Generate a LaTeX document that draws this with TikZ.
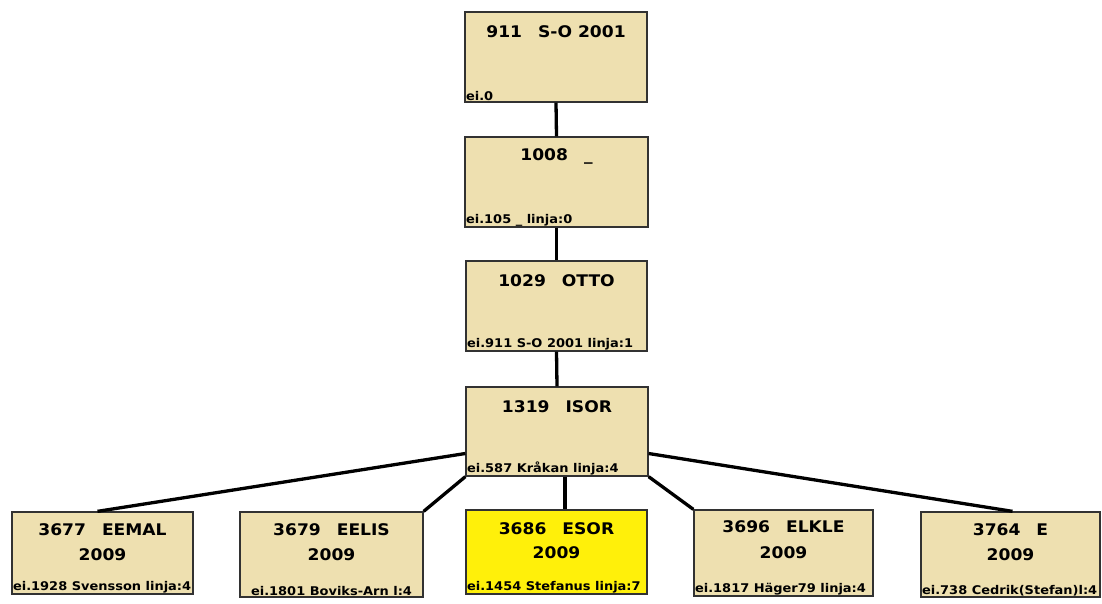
\documentclass[tikz,border=0pt]{standalone}
\usepackage{fontspec}
\setmainfont{DejaVu Sans}
\newfontfamily\titleface[FakeStretch=1.07]{DejaVu Sans}
\newfontfamily\footface[FakeStretch=1.08]{DejaVu Sans}
\definecolor{boxfill}{RGB}{238,224,176}
\definecolor{boxyellow}{RGB}{255,240,10}
\definecolor{boxline}{RGB}{50,50,50}
\begin{document}
\begin{tikzpicture}[x=1pt,y=-1pt,
  box/.style={draw=boxline,line width=1.3pt,fill=boxfill,inner sep=0pt},
  ttl/.style={font=\titleface\bfseries\fontsize{16}{18}\selectfont,inner sep=0pt,anchor=center},
  foot/.style={font=\footface\bfseries\fontsize{12}{14}\selectfont,inner sep=1.5pt,anchor=south west},
  conn/.style={line width=3.3pt,black}]
\useasboundingbox[fill=white] (0,0) rectangle (1102,603);
% boxes
\node[box,minimum width=182pt,minimum height=90pt] (b1) at (556,57) {};
\node[box,minimum width=183pt,minimum height=90pt] (b2) at (556.5,182) {};
\node[box,minimum width=181pt,minimum height=90pt] (b3) at (556.5,306) {};
\node[box,minimum width=182pt,minimum height=89pt] (b4) at (557,431.5) {};
\node[box,minimum width=181pt,minimum height=82pt] (b5) at (102.5,553) {};
\node[box,minimum width=183pt,minimum height=85pt] (b6) at (331.5,554.5) {};
\node[box,fill=boxyellow,minimum width=181pt,minimum height=84pt] (b7) at (556.5,552) {};
\node[box,minimum width=179pt,minimum height=86pt] (b8) at (783.5,553) {};
\node[box,minimum width=179pt,minimum height=85pt] (b9) at (1010.5,554.5) {};
% connectors
\draw[conn] (b1.south) -- (b2.north);
\draw[conn] (b2.south) -- (b3.north);
\draw[conn] (b3.south) -- (b4.north);
\draw[conn] ([xshift=8pt]b4.south) -- ([xshift=8.5pt]b7.north);
\draw[conn] ([yshift=-22pt]b4.west) -- ([xshift=-5pt]b5.north);
\draw[conn] (b4.south west) -- (b6.north east);
\draw[conn] (b4.south east) -- (b8.north west);
\draw[conn] ([yshift=-22pt]b4.east) -- ([xshift=2pt]b9.north);
% titles
\node[ttl] (t1) at ([yshift=-20pt]b1.north) {911\quad S-O 2001};
\node[ttl] (t2) at ([yshift=-20pt]b2.north) {1008\quad\_};
\node[ttl] (t3) at ([yshift=-20pt]b3.north) {1029\quad OTTO};
\node[ttl] (t4) at ([yshift=-20pt]b4.north) {1319\quad ISOR};
\node[ttl] (t5) at ([yshift=-18pt]b5.north) {3677\quad EEMAL};
\node[ttl] (t6) at ([yshift=-18pt]b6.north) {3679\quad EELIS};
\node[ttl] (t7) at ([yshift=-19pt]b7.north) {3686\quad ESOR};
\node[ttl] (t8) at ([yshift=-17pt]b8.north) {3696\quad ELKLE};
\node[ttl] (t9) at ([yshift=-18pt]b9.north) {3764\quad E};
\node[ttl] (y5) at ([yshift=-43pt]b5.north) {2009};
\node[ttl] (y6) at ([yshift=-43pt]b6.north) {2009};
\node[ttl] (y7) at ([yshift=-43pt]b7.north) {2009};
\node[ttl] (y8) at ([yshift=-43pt]b8.north) {2009};
\node[ttl] (y9) at ([yshift=-43pt]b9.north) {2009};
% footers
\node[foot] (f1) at (b1.south west) {ei.0};
\node[foot] (f2) at (b2.south west) {ei.105 \_ linja:0};
\node[foot] (f3) at (b3.south west) {ei.911 S-O 2001 linja:1};
\node[foot] (f4) at (b4.south west) {ei.587 Kråkan linja:4};
\node[foot] (f5) at (b5.south west) {ei.1928 Svensson linja:4};
\node[foot,anchor=south] (f6) at (b6.south) {ei.1801 Boviks-Arn l:4};
\node[foot] (f7) at (b7.south west) {ei.1454 Stefanus linja:7};
\node[foot] (f8) at (b8.south west) {ei.1817 Häger79 linja:4};
\node[foot] (f9) at (b9.south west) {ei.738 Cedrik(Stefan)l:4};
\end{tikzpicture}
\end{document}
